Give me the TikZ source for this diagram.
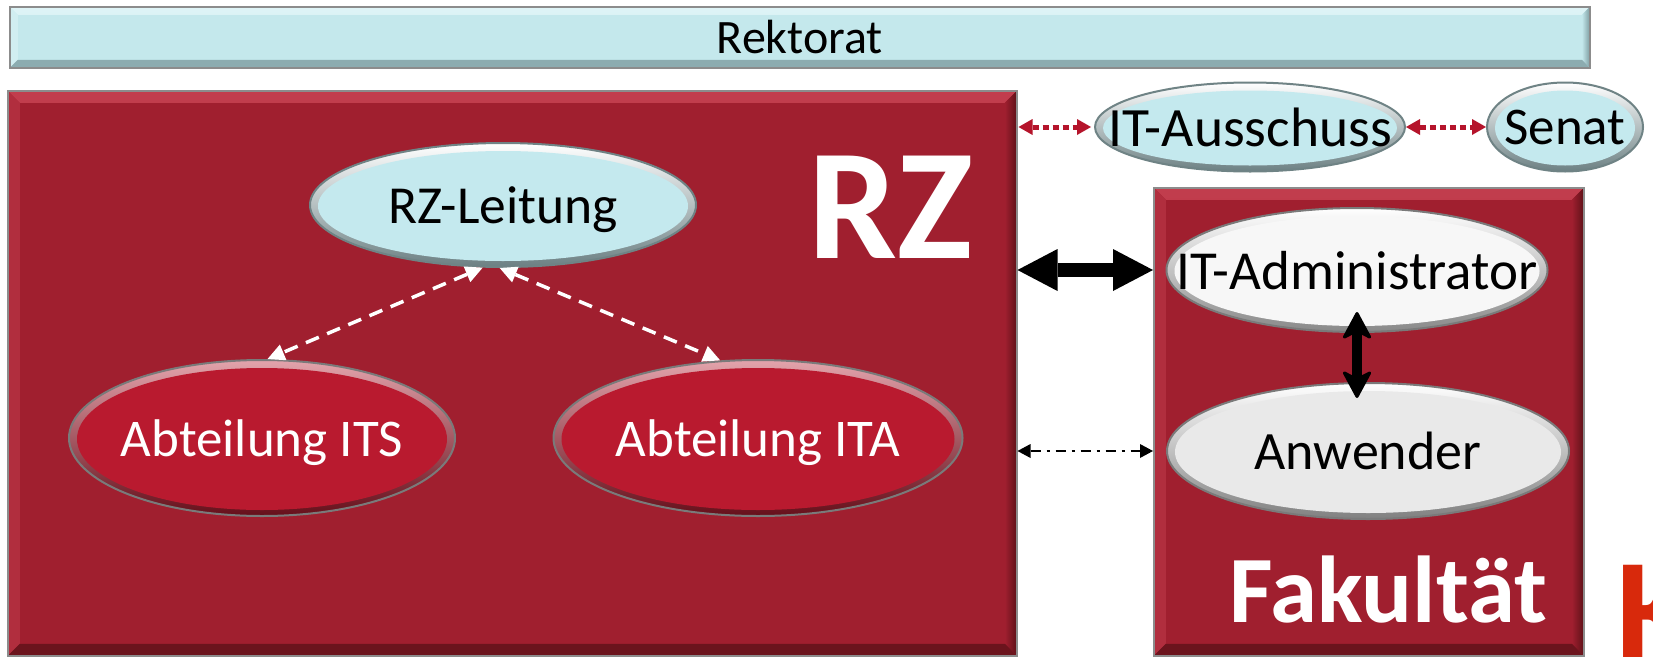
\documentclass[tikz,border=0pt]{standalone}
\usepackage{fontspec}
\setmainfont{Carlito}
\usetikzlibrary{shapes.geometric,arrows.meta,calc}
\definecolor{cyanfill}{HTML}{C4E9EE}
\definecolor{cyanrim}{HTML}{6F8385}
\definecolor{boxred}{HTML}{A01F2F}
\definecolor{boxlight}{HTML}{D04A5A}
\definecolor{boxdark}{HTML}{5E1118}
\definecolor{abtred}{HTML}{B91A2F}
\definecolor{arrred}{HTML}{B5142B}
\definecolor{kred}{HTML}{D8290C}
\definecolor{admfill}{HTML}{F7F7F7}
\definecolor{anwfill}{HTML}{E9E9E9}
\definecolor{ellgray}{HTML}{7A7A7A}
\definecolor{rekfill}{HTML}{C4E8EC}
\definecolor{reklight}{HTML}{EAF9FB}
\definecolor{rekdark}{HTML}{7E9DA1}
\definecolor{boxborder}{HTML}{8C8C8C}
\newcommand{\zw}[1]{\makebox[0pt]{#1}}
\begin{document}
\begin{tikzpicture}[x=1pt,y=-1pt,
  glossy/.style n args={3}{shape=ellipse, draw=#2, line width=2pt, fill=#1,
    inner sep=0pt, text=black, text depth=0pt,
    path picture={
      \shade[top color=#3, bottom color=#1!55!black]
        (path picture bounding box.north west) rectangle (path picture bounding box.south east);
      \fill[#1] let \p1=(path picture bounding box.north east),
                    \p2=(path picture bounding box.center) in
        (\x2,\y2-1pt) ellipse [x radius={\x1-\x2-8pt}, y radius={\y1-\y2-7pt}];
    }},
  fs/.style={font=\fontsize{#1}{#1}\selectfont},
  bevelbox/.style n args={4}{draw=boxborder, line width=1.5pt, fill=#1, inner sep=0pt,
    path picture={
      \shade[top color=#2!70!#1, bottom color=#1]
        (path picture bounding box.north west) -- (path picture bounding box.north east)
        -- ([shift={(-#4,-#4)}]path picture bounding box.north east)
        -- ([shift={(#4,-#4)}]path picture bounding box.north west) -- cycle;
      \fill[#2!35!#1]
        (path picture bounding box.north west) -- ([shift={(#4,-#4)}]path picture bounding box.north west)
        -- ([shift={(#4,#4)}]path picture bounding box.south west) -- (path picture bounding box.south west) -- cycle;
      \shade[left color=#1, right color=#3]
        (path picture bounding box.north east) -- ([shift={(-#4,-#4)}]path picture bounding box.north east)
        -- ([shift={(-#4,#4)}]path picture bounding box.south east) -- (path picture bounding box.south east) -- cycle;
      \fill[#3!80!#1]
        (path picture bounding box.south west) -- (path picture bounding box.south east)
        -- ([shift={(-#4,#4)}]path picture bounding box.south east)
        -- ([shift={(#4,#4)}]path picture bounding box.south west) -- cycle;
    }},
  redarr/.style={draw=arrred, line width=5pt, dash pattern=on 6pt off 4pt,
    arrows={Triangle[length=14pt,width=16pt,line width=0pt]-Triangle[length=14pt,width=16pt,line width=0pt]}},
  whitearr/.style={draw=white, line width=3.5pt, dash pattern=on 14pt off 9pt,
    arrows={Triangle[length=17pt,width=17pt,line width=0pt]-Triangle[length=17pt,width=17pt,line width=0pt]}},
  thickarr/.style={draw=black, line width=14pt,
    arrows={Triangle[length=40pt,width=42pt,line width=0pt]-Triangle[length=40pt,width=42pt,line width=0pt]}},
  vertarr/.style={draw=black, line width=10pt,
    arrows={Stealth[length=30pt,width=32pt,inset=8pt,line width=3pt,round]-Stealth[length=30pt,width=32pt,inset=8pt,line width=3pt,round]}},
  dotarr/.style={draw=black, line width=2.5pt, dash pattern=on 10pt off 6pt on 3pt off 6pt,
    arrows={Triangle[length=13pt,width=14pt,line width=0pt]-Triangle[length=13pt,width=14pt,line width=0pt]}},
  biglabel/.style={font=\bfseries\fontsize{#1}{#1}\selectfont, inner sep=0pt}
]
\useasboundingbox (0,0) rectangle (1653,656);
\fill[white] (0,0) rectangle (1653,656);

% boxes
\node[bevelbox={rekfill}{reklight}{rekdark}{8pt}, minimum width=1580pt, minimum height=61pt,
      anchor=north west, fs=48, text depth=0pt] (rek) at (9,6) {Rektorat};
\node[bevelbox={boxred}{boxlight}{boxdark}{12pt}, minimum width=1009pt, minimum height=565pt,
      anchor=north west] (rz) at (7,90) {};
\node[bevelbox={boxred}{boxlight}{boxdark}{12pt}, minimum width=430pt, minimum height=468pt,
      anchor=north west] (fak) at (1153,187) {};

% labels
\node[biglabel=158, text=white, anchor=base] (rzlab) at (891,258) {RZ};
\node[biglabel=95, text=white, anchor=base] (faklab) at (1388,622) {Fakultät};
\node[biglabel=150, text=kred, anchor=base west] (klab) at (1616,662) {K};

% ellipses
\node[glossy={cyanfill}{cyanrim}{white}, fs=53.5, minimum width=386pt, minimum height=124pt] (rzl) at (503,205) {\zw{RZ-Leitung}};
\node[glossy={abtred}{ellgray}{abtred!40!white}, fs=53, text=white, minimum width=386pt, minimum height=156pt] (its) at (262,438) {\zw{Abteilung ITS}};
\node[glossy={abtred}{ellgray}{abtred!40!white}, fs=53, text=white, minimum width=409pt, minimum height=156pt] (ita) at (758,438) {\zw{Abteilung ITA}};
\node[glossy={cyanfill}{cyanrim}{white}, fs=55.5, minimum width=310pt, minimum height=89pt] (itaus) at (1250,127) {\zw{IT-Ausschuss}};
\node[glossy={cyanfill}{cyanrim}{white}, fs=53, minimum width=156pt, minimum height=89pt] (senat) at (1565,127) {\zw{Senat}};
\node[glossy={admfill}{ellgray}{white}, fs=55, minimum width=381pt, minimum height=124pt] (itadm) at (1357,270) {\zw{IT-Administrator}};
\node[glossy={anwfill}{ellgray}{white}, fs=54, minimum width=402pt, minimum height=136pt] (anw) at (1368,451) {\zw{Anwender}};

% connectors
\draw[redarr, shorten <=1pt, shorten >=3pt] (rz.east |- itaus.west) -- (itaus.west);
\draw[redarr] (itaus.east) -- (senat.west);
\draw[thickarr] (rz.east |- itadm.west) -- (fak.west |- itadm.west);
\draw[dotarr] (rz.east |- anw.west) -- (fak.west |- anw.west);
\draw[vertarr, shorten <=-21pt, shorten >=-16pt] (itadm.south) -- (itadm.south |- anw.north);
\draw[whitearr] (rzl.252) -- (its.86);
\draw[whitearr] (rzl.267) -- (ita.116);
\end{tikzpicture}
\end{document}
